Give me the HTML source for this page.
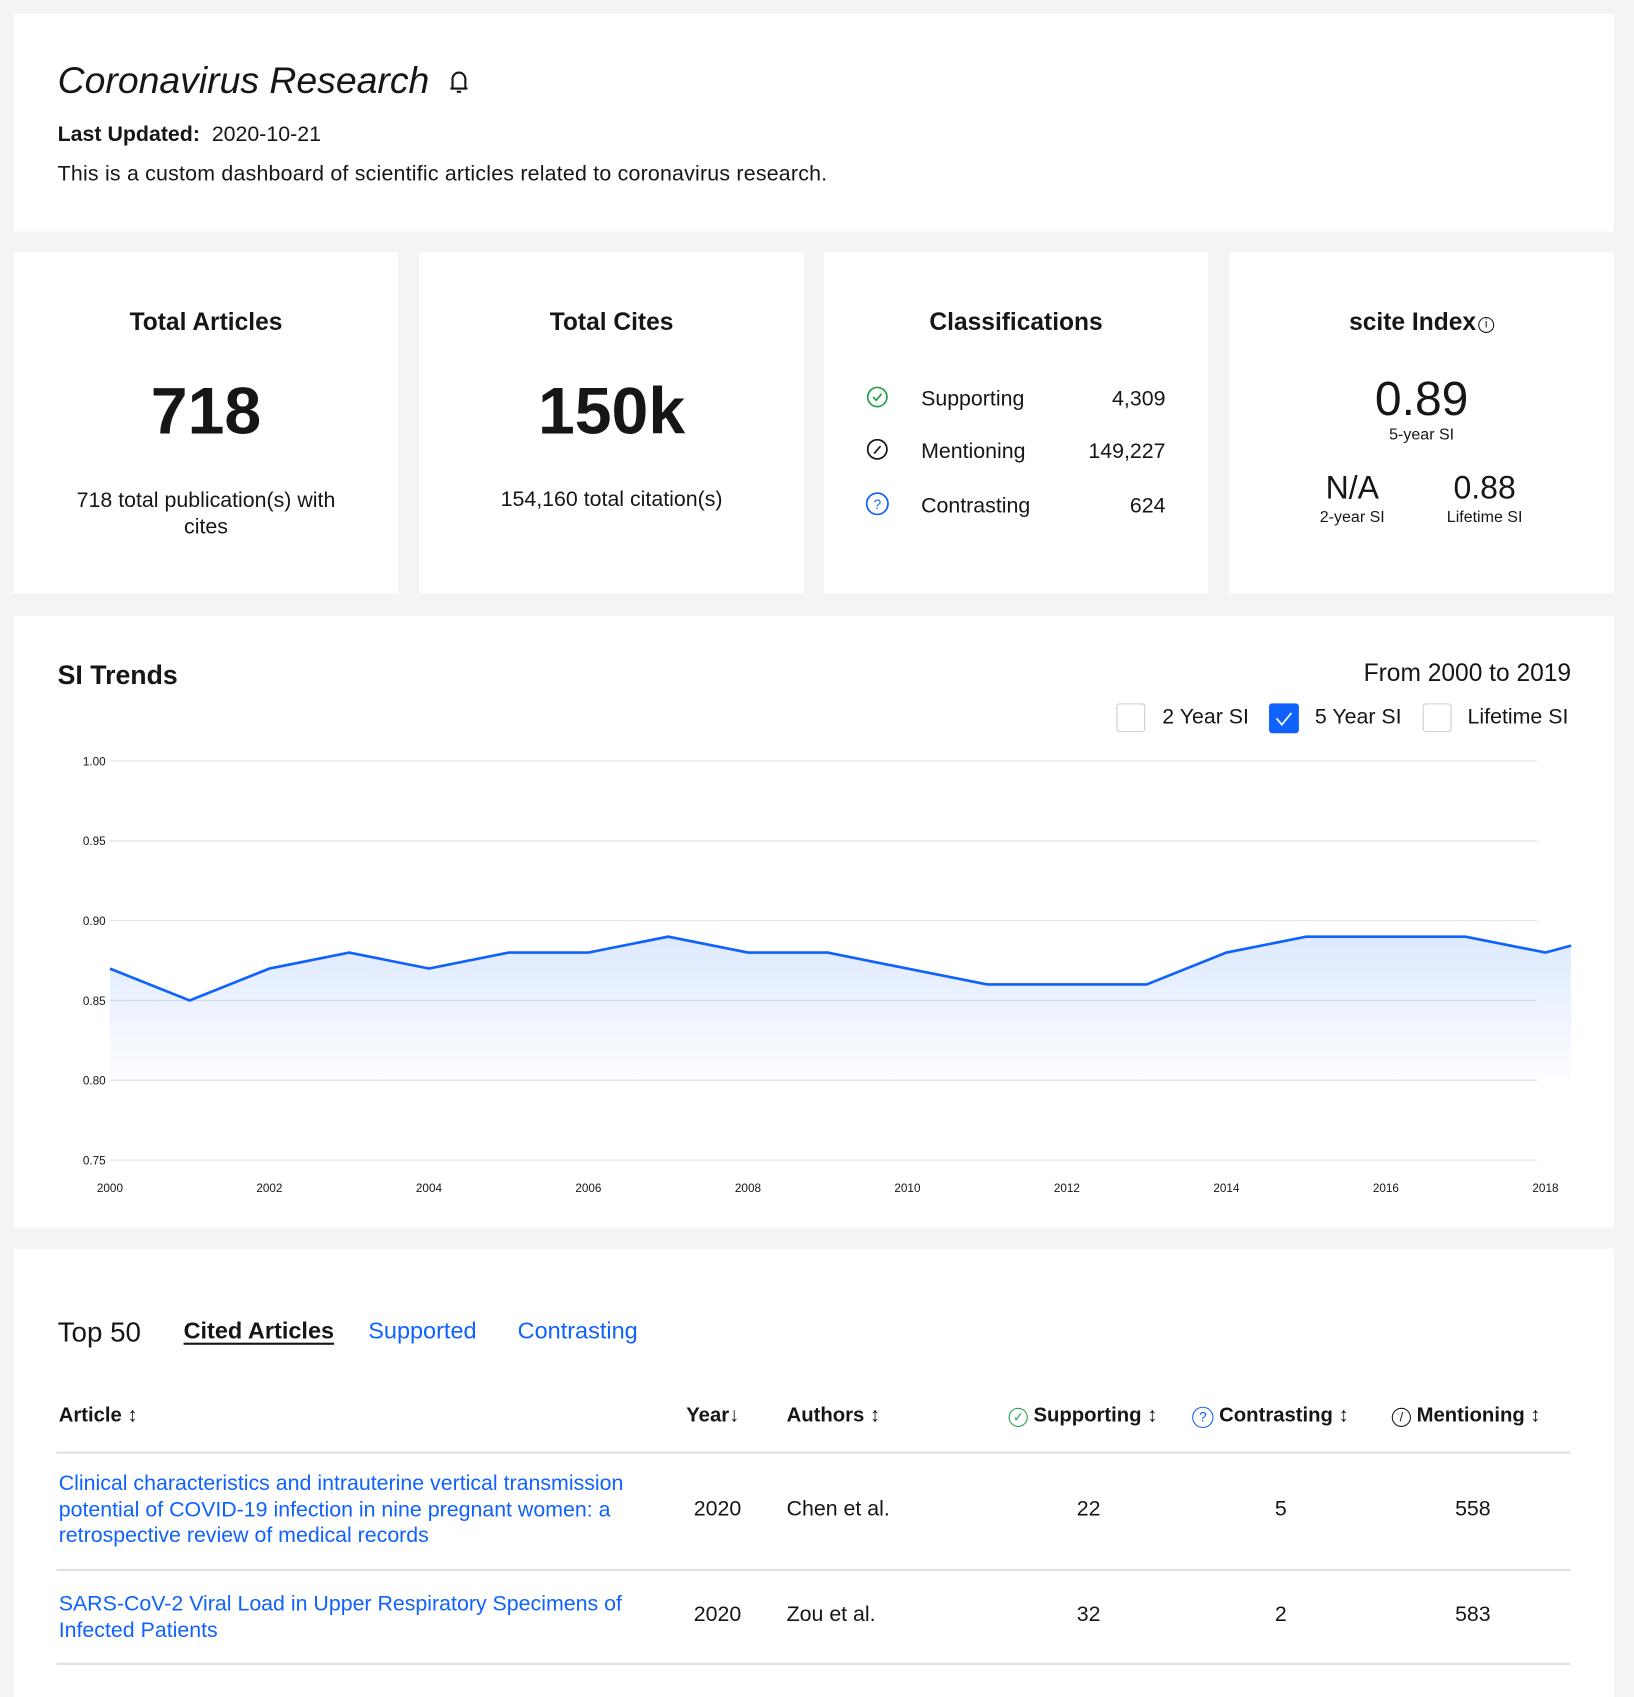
<!DOCTYPE html>
<html><head><meta charset="utf-8"><style>
html,body{margin:0;padding:0;background:#f4f4f4;width:1634px;height:1674px;overflow:hidden}
#w{position:absolute;left:0;top:0;width:1531px;height:1568px;transform:scale(1.0673);transform-origin:0 0;font-family:"Liberation Sans",sans-serif;color:#161616}
.card{position:absolute;background:#fff}
.a{position:absolute;white-space:nowrap}
.c{text-align:center}
.bl{color:#0f62fe}
.hd{font-weight:bold;font-size:19px}
.num{font-size:20px}
</style></head><body><div id="w">
<div class="card" style="left:13px;top:13px;width:1499px;height:204px"></div>
<div class="a" style="left:54px;top:56px;font-size:35px;font-style:italic">Coronavirus Research</div>
<svg class="a" style="left:419px;top:63px" width="22" height="28" viewBox="0 0 22 28"><path d="M5 20V11a6 6 0 0 1 12 0v9M3 20h16M9 23h4" stroke="#161616" stroke-width="2" fill="none"/></svg>
<div class="a" style="left:54px;top:115px;font-size:20px"><b>Last Updated:</b>&nbsp; 2020-10-21</div>
<div class="a" style="left:54px;top:152px;font-size:20px;letter-spacing:0.2px">This is a custom dashboard of scientific articles related to coronavirus research.</div>

<div class="card" style="left:13px;top:236px;width:360px;height:320px"></div>
<div class="card" style="left:393px;top:236px;width:360px;height:320px"></div>
<div class="card" style="left:772px;top:236px;width:360px;height:320px"></div>
<div class="card" style="left:1152px;top:236px;width:360px;height:320px"></div>
<div class="a c" style="left:13px;width:360px;top:288px;font-size:23px;font-weight:bold">Total Articles</div>
<div class="a c" style="left:13px;width:360px;top:350px;font-size:62px;font-weight:bold">718</div>
<div class="a c" style="left:13px;width:360px;top:457px;font-size:20px;line-height:25px;white-space:normal">718 total publication(s) with<br>cites</div>
<div class="a c" style="left:393px;width:360px;top:288px;font-size:23px;font-weight:bold">Total Cites</div>
<div class="a c" style="left:393px;width:360px;top:350px;font-size:62px;font-weight:bold">150k</div>
<div class="a c" style="left:393px;width:360px;top:457px;font-size:20px">154,160 total citation(s)</div>
<div class="a c" style="left:772px;width:360px;top:288px;font-size:23px;font-weight:bold">Classifications</div>
<svg class="a" style="left:811px;top:361px" width="22" height="22"><circle cx="11" cy="11" r="9" stroke="#24a148" stroke-width="1.6" fill="none"/><path d="M7 11l3 3 5-6" stroke="#24a148" stroke-width="1.6" fill="none"/></svg>
<svg class="a" style="left:811px;top:410px" width="22" height="22"><circle cx="11" cy="11" r="9" stroke="#161616" stroke-width="1.6" fill="none"/><path d="M8 15l6-7" stroke="#161616" stroke-width="1.6"/></svg>
<svg class="a" style="left:811px;top:461px" width="22" height="22"><circle cx="11" cy="11" r="10" stroke="#0f62fe" stroke-width="1.6" fill="none"/><text x="11" y="16" font-size="13" text-anchor="middle" fill="#0f62fe" font-family="Liberation Sans">?</text></svg>
<div class="a" style="left:863px;top:363px;font-size:20px">Supporting</div>
<div class="a" style="left:863px;top:412px;font-size:20px">Mentioning</div>
<div class="a" style="left:863px;top:463px;font-size:20px">Contrasting</div>
<div class="a" style="right:439px;top:363px;font-size:20px">4,309</div>
<div class="a" style="right:439px;top:412px;font-size:20px">149,227</div>
<div class="a" style="right:439px;top:463px;font-size:20px">624</div>
<div class="a c" style="left:1152px;width:360px;top:288px;font-size:23px;font-weight:bold">scite Index<span style="font-weight:normal;border:1.3px solid #161616;border-radius:50%;display:inline-block;width:13px;height:13px;line-height:13px;font-size:11px;vertical-align:2px;margin-left:2px">i</span></div>
<div class="a c" style="left:1152px;width:360px;top:348px;font-size:45px">0.89</div>
<div class="a c" style="left:1152px;width:360px;top:399px;font-size:15px">5-year SI</div>
<div class="a c" style="left:1207px;width:120px;top:441px;font-size:30px">N/A</div>
<div class="a c" style="left:1331px;width:120px;top:441px;font-size:30px">0.88</div>
<div class="a c" style="left:1207px;width:120px;top:476px;font-size:15px">2-year SI</div>
<div class="a c" style="left:1331px;width:120px;top:476px;font-size:15px">Lifetime SI</div>

<div class="card" style="left:13px;top:577px;width:1499px;height:573px"></div>
<div class="a" style="left:54px;top:619px;font-size:25px;font-weight:bold">SI Trends</div>
<div class="a" style="right:59px;top:617px;font-size:23px">From 2000 to 2019</div>
<div class="a" style="left:1046px;top:659px;width:25px;height:25px;border:1.5px solid #ccc;border-radius:3px"></div>
<div class="a" style="left:1089px;top:661px;font-size:20px">2 Year SI</div>
<div class="a" style="left:1189px;top:659px;width:28px;height:28px;background:#0f62fe;border-radius:3px"><svg width="28" height="28"><path d="M7 14l5 6 9-11" stroke="#fff" stroke-width="1.6" fill="none"/></svg></div>
<div class="a" style="left:1232px;top:661px;font-size:20px">5 Year SI</div>
<div class="a" style="left:1333px;top:659px;width:25px;height:25px;border:1.5px solid #ccc;border-radius:3px"></div>
<div class="a" style="left:1375px;top:661px;font-size:20px">Lifetime SI</div>
<svg class="a" style="left:0;top:0" width="1531" height="1150">
<defs><linearGradient id="g" x1="0" y1="0" x2="0" y2="1"><stop offset="0" stop-color="#0f62fe" stop-opacity="0.14"/><stop offset="1" stop-color="#0f62fe" stop-opacity="0.01"/></linearGradient></defs>
<g stroke="#e6e6e6" stroke-width="1.2">
<line x1="103" x2="1440" y1="713" y2="713"/><line x1="103" x2="1440" y1="787.8" y2="787.8"/><line x1="103" x2="1440" y1="862.6" y2="862.6"/><line x1="103" x2="1440" y1="937.4" y2="937.4"/><line x1="103" x2="1440" y1="1012.2" y2="1012.2"/><line x1="103" x2="1440" y1="1087" y2="1087"/></g>
<g font-size="11" fill="#161616" font-family="Liberation Sans">
<text x="99" y="717" text-anchor="end">1.00</text><text x="99" y="791.8" text-anchor="end">0.95</text><text x="99" y="866.6" text-anchor="end">0.90</text><text x="99" y="941.4" text-anchor="end">0.85</text><text x="99" y="1016.2" text-anchor="end">0.80</text><text x="99" y="1091" text-anchor="end">0.75</text>
<g text-anchor="middle"><text x="103" y="1117">2000</text><text x="252.4" y="1117">2002</text><text x="401.9" y="1117">2004</text><text x="551.3" y="1117">2006</text><text x="700.8" y="1117">2008</text><text x="850.2" y="1117">2010</text><text x="999.6" y="1117">2012</text><text x="1149.1" y="1117">2014</text><text x="1298.5" y="1117">2016</text><text x="1448" y="1117">2018</text></g></g>
<path d="M103 907.5 L177.7 937.4 L252.4 907.5 L327.2 892.5 L401.9 907.5 L476.6 892.5 L551.3 892.5 L626 877.6 L700.8 892.5 L775.5 892.5 L850.2 907.5 L924.9 922.4 L999.6 922.4 L1074.4 922.4 L1149.1 892.5 L1223.8 877.6 L1298.5 877.6 L1373.2 877.6 L1448 892.5 L1472 886 L1472 1012 L103 1012 Z" fill="url(#g)"/>
<path d="M103 907.5 L177.7 937.4 L252.4 907.5 L327.2 892.5 L401.9 907.5 L476.6 892.5 L551.3 892.5 L626 877.6 L700.8 892.5 L775.5 892.5 L850.2 907.5 L924.9 922.4 L999.6 922.4 L1074.4 922.4 L1149.1 892.5 L1223.8 877.6 L1298.5 877.6 L1373.2 877.6 L1448 892.5 L1472 886" fill="none" stroke="#0f62fe" stroke-width="2.5"/>
</svg>

<div class="card" style="left:13px;top:1170px;width:1499px;height:420px"></div>
<div class="a" style="left:54px;top:1233px;font-size:26px">Top 50</div>
<div class="a" style="left:172px;top:1234px;font-size:22px;font-weight:bold;text-decoration:underline;text-underline-offset:4px">Cited Articles</div>
<div class="a bl" style="left:345px;top:1234px;font-size:22px">Supported</div>
<div class="a bl" style="left:485px;top:1234px;font-size:22px">Contrasting</div>
<div class="a hd" style="left:55px;top:1316px">Article ↕</div>
<div class="a hd" style="left:643px;top:1316px">Year↓</div>
<div class="a hd" style="left:737px;top:1316px">Authors ↕</div>
<div class="a hd" style="left:945px;top:1316px"><span style="color:#24a148;font-weight:normal;border:1.5px solid #24a148;border-radius:50%;display:inline-block;width:16px;height:16px;font-size:12px;line-height:16px;text-align:center">✓</span> Supporting ↕</div>
<div class="a hd" style="left:1117px;top:1316px"><span style="color:#0f62fe;font-weight:normal;border:1.5px solid #0f62fe;border-radius:50%;display:inline-block;width:18px;height:18px;font-size:13px;line-height:18px;text-align:center">?</span> Contrasting ↕</div>
<div class="a hd" style="left:1304px;top:1316px"><span style="font-weight:normal;border:1.5px solid #161616;border-radius:50%;display:inline-block;width:16px;height:16px;font-size:12px;line-height:16px;text-align:center">/</span> Mentioning ↕</div>
<div class="a" style="left:53px;top:1360px;width:1418px;height:2px;background:#e0e0e0"></div>
<div class="a bl" style="left:55px;top:1378px;font-size:20px;line-height:24.5px">Clinical characteristics and intrauterine vertical transmission<br>potential of COVID-19 infection in nine pregnant women: a<br>retrospective review of medical records</div>
<div class="a num" style="left:650px;top:1403px">2020</div>
<div class="a num" style="left:737px;top:1403px">Chen et al.</div>
<div class="a num c" style="left:970px;width:100px;top:1403px">22</div>
<div class="a num c" style="left:1150px;width:100px;top:1403px">5</div>
<div class="a num c" style="left:1330px;width:100px;top:1403px">558</div>
<div class="a" style="left:53px;top:1470px;width:1418px;height:2px;background:#e0e0e0"></div>
<div class="a bl" style="left:55px;top:1491px;font-size:20px;line-height:24.5px">SARS-CoV-2 Viral Load in Upper Respiratory Specimens of<br>Infected Patients</div>
<div class="a num" style="left:650px;top:1502px">2020</div>
<div class="a num" style="left:737px;top:1502px">Zou et al.</div>
<div class="a num c" style="left:970px;width:100px;top:1502px">32</div>
<div class="a num c" style="left:1150px;width:100px;top:1502px">2</div>
<div class="a num c" style="left:1330px;width:100px;top:1502px">583</div>
<div class="a" style="left:53px;top:1558px;width:1418px;height:2px;background:#e0e0e0"></div>
</div></body></html>
